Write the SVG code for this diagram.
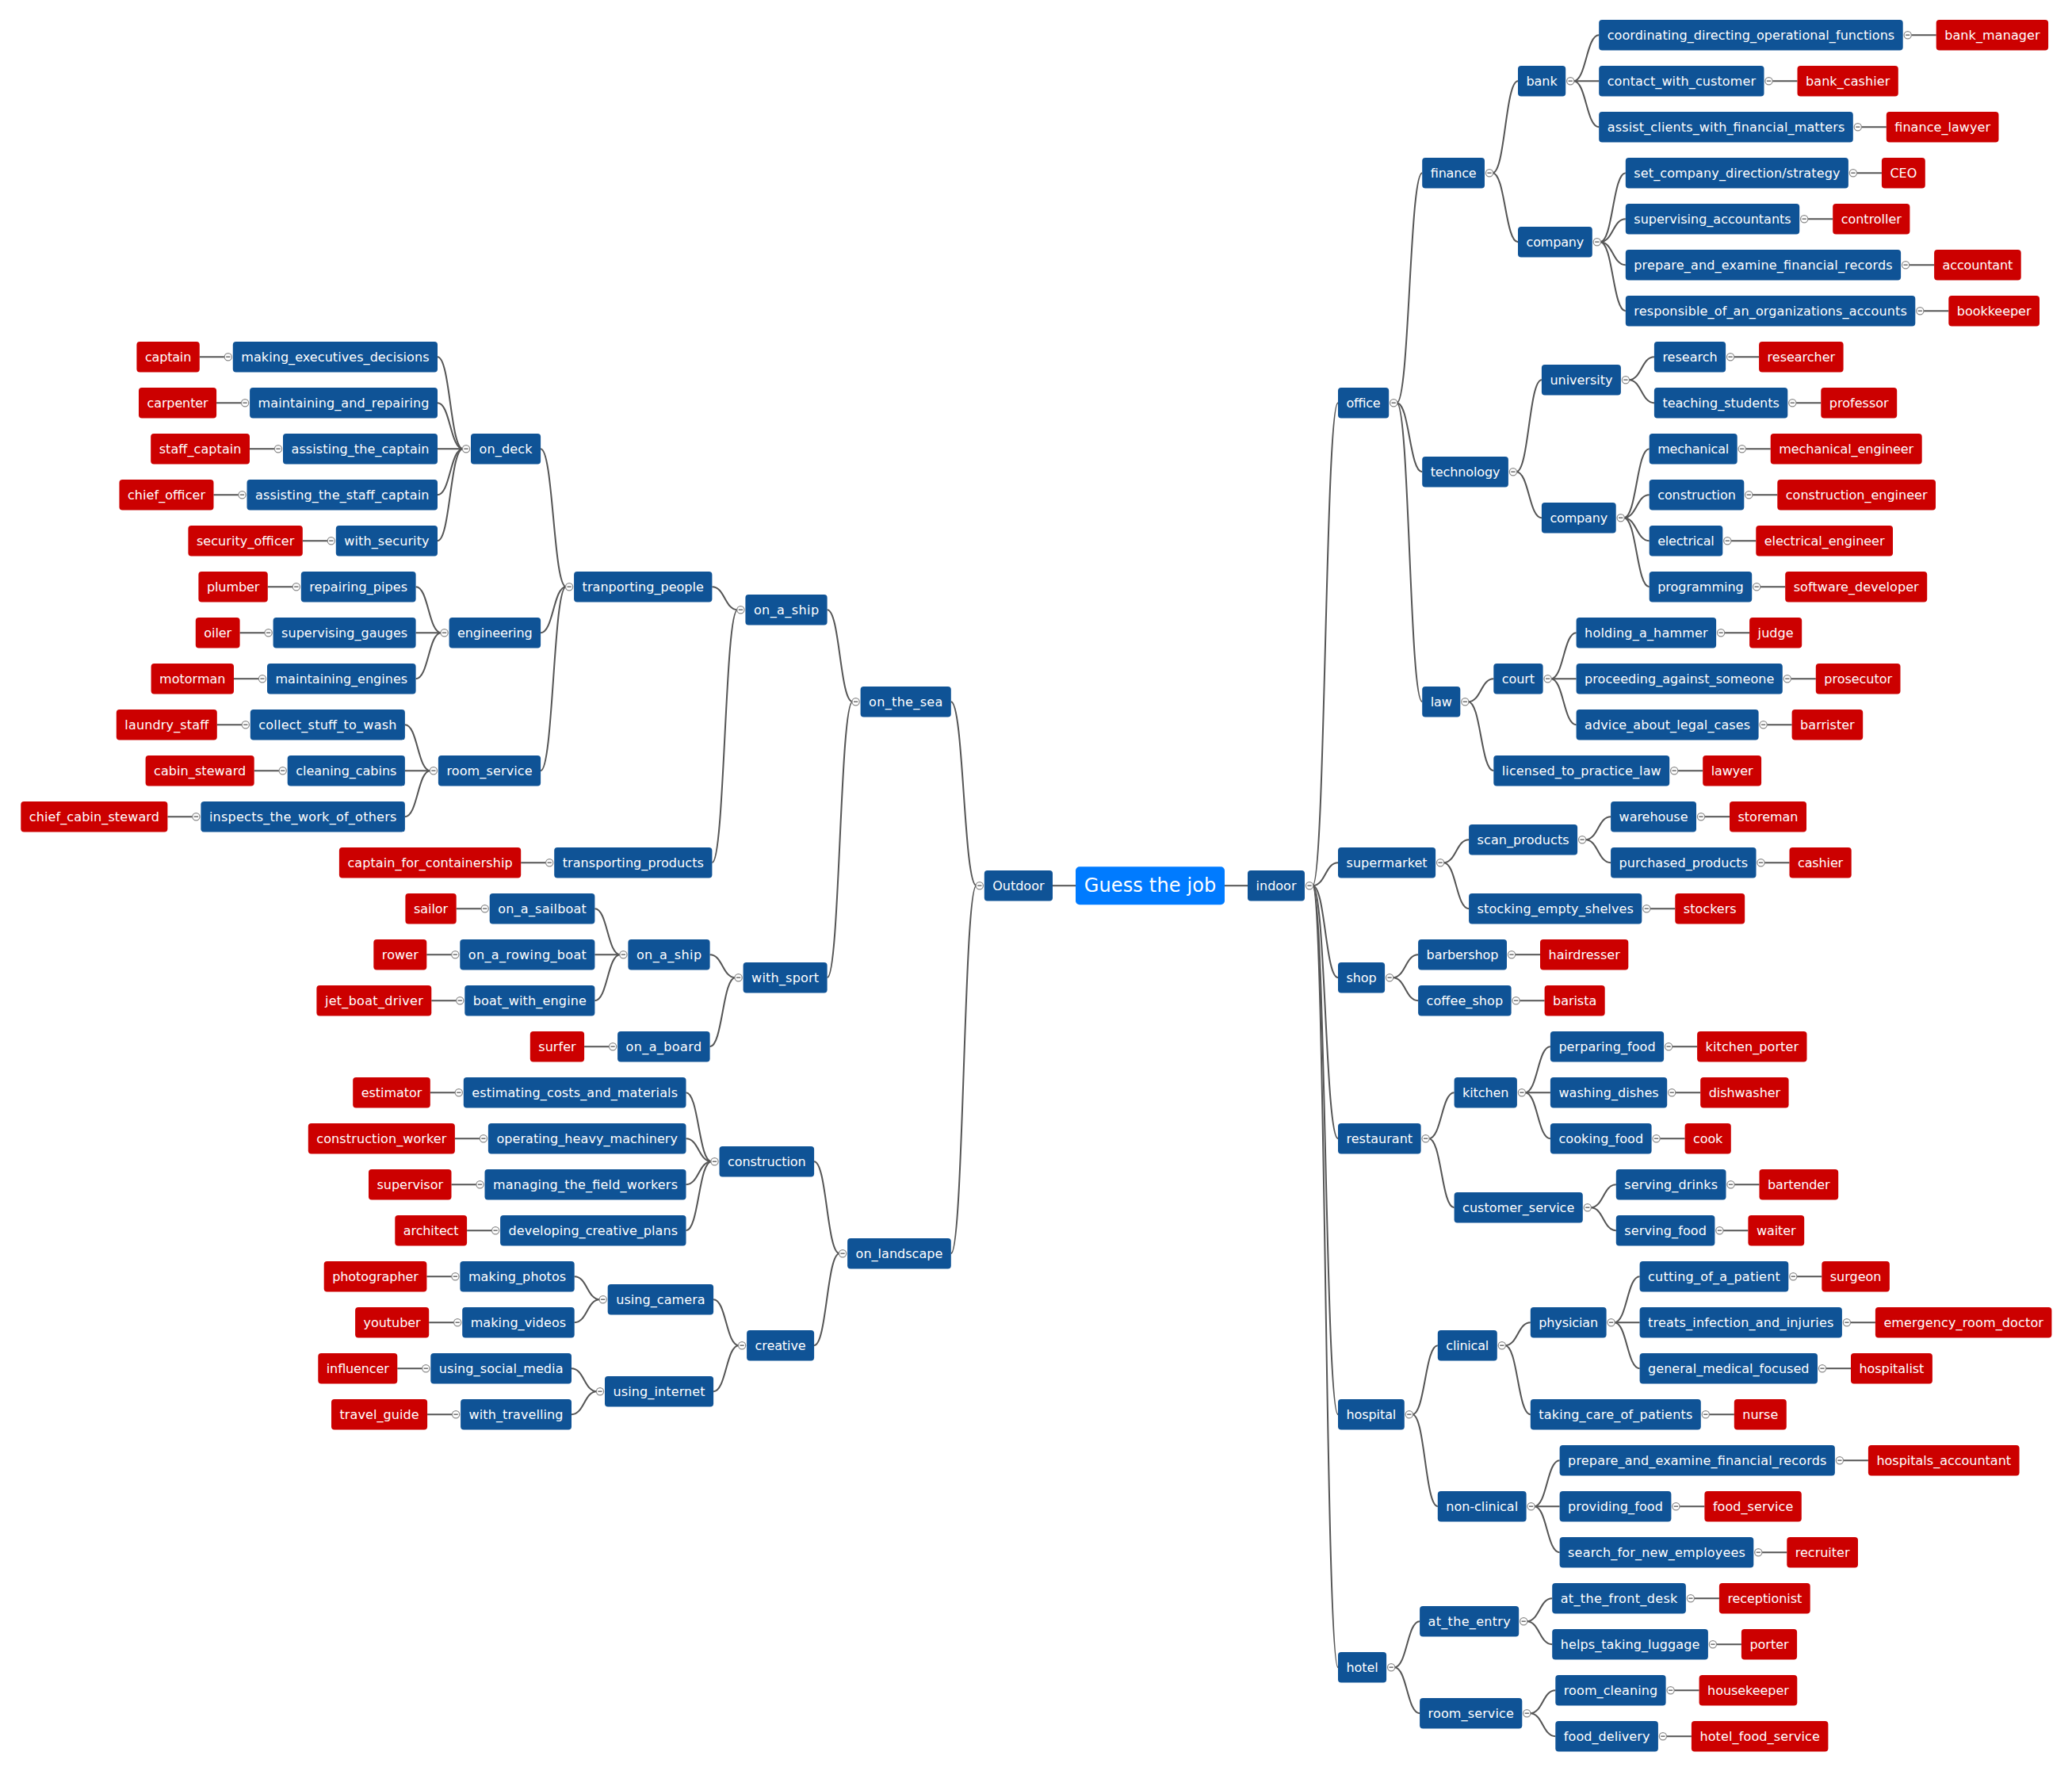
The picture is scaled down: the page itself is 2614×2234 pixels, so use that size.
<svg xmlns="http://www.w3.org/2000/svg" xmlns:xlink="http://www.w3.org/1999/xlink" width="2614" height="2234" viewBox="0 0 2614 2234">
<style>
.n rect{fill:#0F5396}
.lf rect{fill:#CC0000}
text{fill:#fff;font-family:"DejaVu Sans",Verdana,"Liberation Sans",sans-serif;font-size:16px;text-anchor:middle}
#connectors path{fill:none;stroke:#555;stroke-width:2}
</style>
<defs>
<g id="tg"><circle r="4.6" fill="#fff" stroke="#8a8a8a" stroke-width="1.2"/><path d="M-2.6 0H2.6" stroke="#777" stroke-width="1.6"/></g>
</defs>
<rect width="2614" height="2234" fill="#fff"/>
<g id="connectors">
<path d="M1545 1117.2H1574"/>
<path d="M1357 1117.2H1328"/>
<path d="M1656 1117.2C1672 1117.2 1672 508.2 1688 508.2"/>
<path d="M1656 1117.2C1672 1117.2 1672 1088.2 1688 1088.2"/>
<path d="M1656 1117.2C1672 1117.2 1672 1233.2 1688 1233.2"/>
<path d="M1656 1117.2C1672 1117.2 1672 1436.2 1688 1436.2"/>
<path d="M1656 1117.2C1672 1117.2 1672 1784.2 1688 1784.2"/>
<path d="M1656 1117.2C1672 1117.2 1672 2103.2 1688 2103.2"/>
<path d="M1762.2 508.2C1778.2 508.2 1778.2 218.2 1794.2 218.2"/>
<path d="M1762.2 508.2C1778.2 508.2 1778.2 595.2 1794.2 595.2"/>
<path d="M1762.2 508.2C1778.2 508.2 1778.2 885.2 1794.2 885.2"/>
<path d="M1821.1 1088.2C1837.1 1088.2 1837.1 1059.2 1853.1 1059.2"/>
<path d="M1821.1 1088.2C1837.1 1088.2 1837.1 1146.2 1853.1 1146.2"/>
<path d="M1757.1 1233.2C1773.1 1233.2 1773.1 1204.2 1789.1 1204.2"/>
<path d="M1757.1 1233.2C1773.1 1233.2 1773.1 1262.2 1789.1 1262.2"/>
<path d="M1802.6 1436.2C1818.6 1436.2 1818.6 1378.2 1834.6 1378.2"/>
<path d="M1802.6 1436.2C1818.6 1436.2 1818.6 1523.2 1834.6 1523.2"/>
<path d="M1781.8 1784.2C1797.8 1784.2 1797.8 1697.2 1813.8 1697.2"/>
<path d="M1781.8 1784.2C1797.8 1784.2 1797.8 1900.2 1813.8 1900.2"/>
<path d="M1759.1 2103.2C1775.1 2103.2 1775.1 2045.2 1791.1 2045.2"/>
<path d="M1759.1 2103.2C1775.1 2103.2 1775.1 2161.2 1791.1 2161.2"/>
<path d="M1883 218.2C1899 218.2 1899 102.2 1915 102.2"/>
<path d="M1883 218.2C1899 218.2 1899 305.2 1915 305.2"/>
<path d="M1912.9 595.2C1928.9 595.2 1928.9 479.2 1944.9 479.2"/>
<path d="M1912.9 595.2C1928.9 595.2 1928.9 653.2 1944.9 653.2"/>
<path d="M1852.3 885.2C1868.3 885.2 1868.3 856.2 1884.3 856.2"/>
<path d="M1852.3 885.2C1868.3 885.2 1868.3 972.2 1884.3 972.2"/>
<path d="M2000.1 1059.2C2016.1 1059.2 2016.1 1030.2 2032.1 1030.2"/>
<path d="M2000.1 1059.2C2016.1 1059.2 2016.1 1088.2 2032.1 1088.2"/>
<path d="M2081.3 1146.2H2113.3"/>
<path d="M1911 1204.2H1943"/>
<path d="M1916.6 1262.2H1948.6"/>
<path d="M1923.9 1378.2C1939.9 1378.2 1939.9 1320.2 1955.9 1320.2"/>
<path d="M1923.9 1378.2H1955.9"/>
<path d="M1923.9 1378.2C1939.9 1378.2 1939.9 1436.2 1955.9 1436.2"/>
<path d="M2006.8 1523.2C2022.8 1523.2 2022.8 1494.2 2038.8 1494.2"/>
<path d="M2006.8 1523.2C2022.8 1523.2 2022.8 1552.2 2038.8 1552.2"/>
<path d="M1898.8 1697.2C1914.8 1697.2 1914.8 1668.2 1930.8 1668.2"/>
<path d="M1898.8 1697.2C1914.8 1697.2 1914.8 1784.2 1930.8 1784.2"/>
<path d="M1935.6 1900.2C1951.6 1900.2 1951.6 1842.2 1967.6 1842.2"/>
<path d="M1935.6 1900.2H1967.6"/>
<path d="M1935.6 1900.2C1951.6 1900.2 1951.6 1958.2 1967.6 1958.2"/>
<path d="M1926.2 2045.2C1942.2 2045.2 1942.2 2016.2 1958.2 2016.2"/>
<path d="M1926.2 2045.2C1942.2 2045.2 1942.2 2074.2 1958.2 2074.2"/>
<path d="M1930.3 2161.2C1946.3 2161.2 1946.3 2132.2 1962.3 2132.2"/>
<path d="M1930.3 2161.2C1946.3 2161.2 1946.3 2190.2 1962.3 2190.2"/>
<path d="M1985.2 102.2C2001.2 102.2 2001.2 44.2 2017.2 44.2"/>
<path d="M1985.2 102.2H2017.2"/>
<path d="M1985.2 102.2C2001.2 102.2 2001.2 160.2 2017.2 160.2"/>
<path d="M2018.8 305.2C2034.8 305.2 2034.8 218.2 2050.8 218.2"/>
<path d="M2018.8 305.2C2034.8 305.2 2034.8 276.2 2050.8 276.2"/>
<path d="M2018.8 305.2C2034.8 305.2 2034.8 334.2 2050.8 334.2"/>
<path d="M2018.8 305.2C2034.8 305.2 2034.8 392.2 2050.8 392.2"/>
<path d="M2054.9 479.2C2070.9 479.2 2070.9 450.2 2086.9 450.2"/>
<path d="M2054.9 479.2C2070.9 479.2 2070.9 508.2 2086.9 508.2"/>
<path d="M2048.7 653.2C2064.7 653.2 2064.7 566.2 2080.7 566.2"/>
<path d="M2048.7 653.2C2064.7 653.2 2064.7 624.2 2080.7 624.2"/>
<path d="M2048.7 653.2C2064.7 653.2 2064.7 682.2 2080.7 682.2"/>
<path d="M2048.7 653.2C2064.7 653.2 2064.7 740.2 2080.7 740.2"/>
<path d="M1956.6 856.2C1972.6 856.2 1972.6 798.2 1988.6 798.2"/>
<path d="M1956.6 856.2H1988.6"/>
<path d="M1956.6 856.2C1972.6 856.2 1972.6 914.2 1988.6 914.2"/>
<path d="M2116.2 972.2H2148.2"/>
<path d="M2150 1030.2H2182"/>
<path d="M2225.5 1088.2H2257.5"/>
<path d="M2109.1 1320.2H2141.1"/>
<path d="M2113.2 1378.2H2145.2"/>
<path d="M2093.6 1436.2H2125.6"/>
<path d="M2187.5 1494.2H2219.5"/>
<path d="M2173.4 1552.2H2205.4"/>
<path d="M2036.6 1668.2C2052.6 1668.2 2052.6 1610.2 2068.6 1610.2"/>
<path d="M2036.6 1668.2H2068.6"/>
<path d="M2036.6 1668.2C2052.6 1668.2 2052.6 1726.2 2068.6 1726.2"/>
<path d="M2155.8 1784.2H2187.8"/>
<path d="M2324.9 1842.2H2356.9"/>
<path d="M2118.4 1900.2H2150.4"/>
<path d="M2222.3 1958.2H2254.3"/>
<path d="M2136.9 2016.2H2168.9"/>
<path d="M2164.9 2074.2H2196.9"/>
<path d="M2111.6 2132.2H2143.6"/>
<path d="M2101.9 2190.2H2133.9"/>
<path d="M2410.7 44.2H2442.7"/>
<path d="M2235.5 102.2H2267.5"/>
<path d="M2347.8 160.2H2379.8"/>
<path d="M2341.9 218.2H2373.9"/>
<path d="M2280.2 276.2H2312.2"/>
<path d="M2408.1 334.2H2440.1"/>
<path d="M2426.3 392.2H2458.3"/>
<path d="M2187.1 450.2H2219.1"/>
<path d="M2265.3 508.2H2297.3"/>
<path d="M2201.7 566.2H2233.7"/>
<path d="M2210.3 624.2H2242.3"/>
<path d="M2183.3 682.2H2215.3"/>
<path d="M2220.2 740.2H2252.2"/>
<path d="M2175.1 798.2H2207.1"/>
<path d="M2258.8 856.2H2290.8"/>
<path d="M2228.6 914.2H2260.6"/>
<path d="M2266.3 1610.2H2298.3"/>
<path d="M2333.9 1668.2H2365.9"/>
<path d="M2303 1726.2H2335"/>
<path d="M1231.8 1117.2C1215.8 1117.2 1215.8 885.2 1199.8 885.2"/>
<path d="M1231.8 1117.2C1215.8 1117.2 1215.8 1581.2 1199.8 1581.2"/>
<path d="M1075.6 885.2C1059.6 885.2 1059.6 769.2 1043.6 769.2"/>
<path d="M1075.6 885.2C1059.6 885.2 1059.6 1233.2 1043.6 1233.2"/>
<path d="M1059.1 1581.2C1043.1 1581.2 1043.1 1465.2 1027.1 1465.2"/>
<path d="M1059.1 1581.2C1043.1 1581.2 1043.1 1697.2 1027.1 1697.2"/>
<path d="M930.4 769.2C914.4 769.2 914.4 740.2 898.4 740.2"/>
<path d="M930.4 769.2C914.4 769.2 914.4 1088.2 898.4 1088.2"/>
<path d="M927.6 1233.2C911.6 1233.2 911.6 1204.2 895.6 1204.2"/>
<path d="M927.6 1233.2C911.6 1233.2 911.6 1320.2 895.6 1320.2"/>
<path d="M897.5 1465.2C881.5 1465.2 881.5 1378.2 865.5 1378.2"/>
<path d="M897.5 1465.2C881.5 1465.2 881.5 1436.2 865.5 1436.2"/>
<path d="M897.5 1465.2C881.5 1465.2 881.5 1494.2 865.5 1494.2"/>
<path d="M897.5 1465.2C881.5 1465.2 881.5 1552.2 865.5 1552.2"/>
<path d="M932.1 1697.2C916.1 1697.2 916.1 1639.2 900.1 1639.2"/>
<path d="M932.1 1697.2C916.1 1697.2 916.1 1755.2 900.1 1755.2"/>
<path d="M714.1 740.2C698.1 740.2 698.1 566.2 682.1 566.2"/>
<path d="M714.1 740.2C698.1 740.2 698.1 798.2 682.1 798.2"/>
<path d="M714.1 740.2C698.1 740.2 698.1 972.2 682.1 972.2"/>
<path d="M689.2 1088.2H657.2"/>
<path d="M782.4 1204.2C766.4 1204.2 766.4 1146.2 750.4 1146.2"/>
<path d="M782.4 1204.2H750.4"/>
<path d="M782.4 1204.2C766.4 1204.2 766.4 1262.2 750.4 1262.2"/>
<path d="M769.1 1320.2H737.1"/>
<path d="M574.8 1378.2H542.8"/>
<path d="M605.9 1436.2H573.9"/>
<path d="M601.5 1494.2H569.5"/>
<path d="M621.1 1552.2H589.1"/>
<path d="M756.7 1639.2C740.7 1639.2 740.7 1610.2 724.7 1610.2"/>
<path d="M756.7 1639.2C740.7 1639.2 740.7 1668.2 724.7 1668.2"/>
<path d="M753 1755.2C737 1755.2 737 1726.2 721 1726.2"/>
<path d="M753 1755.2C737 1755.2 737 1784.2 721 1784.2"/>
<path d="M584 566.2C568 566.2 568 450.2 552 450.2"/>
<path d="M584 566.2C568 566.2 568 508.2 552 508.2"/>
<path d="M584 566.2H552"/>
<path d="M584 566.2C568 566.2 568 624.2 552 624.2"/>
<path d="M584 566.2C568 566.2 568 682.2 552 682.2"/>
<path d="M556.6 798.2C540.6 798.2 540.6 740.2 524.6 740.2"/>
<path d="M556.6 798.2H524.6"/>
<path d="M556.6 798.2C540.6 798.2 540.6 856.2 524.6 856.2"/>
<path d="M542.9 972.2C526.9 972.2 526.9 914.2 510.9 914.2"/>
<path d="M542.9 972.2H510.9"/>
<path d="M542.9 972.2C526.9 972.2 526.9 1030.2 510.9 1030.2"/>
<path d="M607.7 1146.2H575.7"/>
<path d="M570.3 1204.2H538.3"/>
<path d="M576.3 1262.2H544.3"/>
<path d="M570.4 1610.2H538.4"/>
<path d="M573.2 1668.2H541.2"/>
<path d="M533.3 1726.2H501.3"/>
<path d="M571.1 1784.2H539.1"/>
<path d="M283.8 450.2H251.8"/>
<path d="M305.1 508.2H273.1"/>
<path d="M347 566.2H315"/>
<path d="M301.5 624.2H269.5"/>
<path d="M413.8 682.2H381.8"/>
<path d="M369.8 740.2H337.8"/>
<path d="M334.6 798.2H302.6"/>
<path d="M327 856.2H295"/>
<path d="M305.8 914.2H273.8"/>
<path d="M352.7 972.2H320.7"/>
<path d="M243.4 1030.2H211.4"/>
</g>
<g id="root"><rect x="1357" y="1093.2" width="188" height="48" rx="5" fill="#007BFF"/><text x="1451" y="1125.2" style="font-size:24px" textLength="166.7">Guess the job</text></g>
<g id="n-indoor" class="n" transform="translate(1574,1098)"><rect width="72" height="38.4" rx="4"/><text x="36" y="24.9" textLength="51">indoor</text><use href="#tg" x="78" y="19.2"/></g>
<g id="n-office" class="n" transform="translate(1688,489)"><rect width="64.2" height="38.4" rx="4"/><text x="32.1" y="24.9" textLength="43.2">office</text><use href="#tg" x="70.2" y="19.2"/></g>
<g id="n-supermarket" class="n" transform="translate(1688,1069)"><rect width="123.1" height="38.4" rx="4"/><text x="61.55" y="24.9" textLength="102.1">supermarket</text><use href="#tg" x="129.1" y="19.2"/></g>
<g id="n-shop" class="n" transform="translate(1688,1214)"><rect width="59.1" height="38.4" rx="4"/><text x="29.55" y="24.9" textLength="38.1">shop</text><use href="#tg" x="65.1" y="19.2"/></g>
<g id="n-restaurant" class="n" transform="translate(1688,1417)"><rect width="104.6" height="38.4" rx="4"/><text x="52.3" y="24.9" textLength="83.6">restaurant</text><use href="#tg" x="110.6" y="19.2"/></g>
<g id="n-hospital" class="n" transform="translate(1688,1765)"><rect width="83.8" height="38.4" rx="4"/><text x="41.9" y="24.9" textLength="62.8">hospital</text><use href="#tg" x="89.8" y="19.2"/></g>
<g id="n-hotel" class="n" transform="translate(1688,2084)"><rect width="61.1" height="38.4" rx="4"/><text x="30.55" y="24.9" textLength="40.1">hotel</text><use href="#tg" x="67.1" y="19.2"/></g>
<g id="n-finance" class="n" transform="translate(1794.2,199)"><rect width="78.8" height="38.4" rx="4"/><text x="39.4" y="24.9" textLength="57.8">finance</text><use href="#tg" x="84.8" y="19.2"/></g>
<g id="n-technology" class="n" transform="translate(1794.2,576)"><rect width="108.7" height="38.4" rx="4"/><text x="54.35" y="24.9" textLength="87.7">technology</text><use href="#tg" x="114.7" y="19.2"/></g>
<g id="n-law" class="n" transform="translate(1794.2,866)"><rect width="48.1" height="38.4" rx="4"/><text x="24.05" y="24.9" textLength="27.1">law</text><use href="#tg" x="54.1" y="19.2"/></g>
<g id="n-scan_products" class="n" transform="translate(1853.1,1040)"><rect width="137" height="38.4" rx="4"/><text x="68.5" y="24.9" textLength="116">scan_products</text><use href="#tg" x="143" y="19.2"/></g>
<g id="n-stocking_empty_shelves" class="n" transform="translate(1853.1,1127)"><rect width="218.2" height="38.4" rx="4"/><text x="109.1" y="24.9" textLength="197.2">stocking_empty_shelves</text><use href="#tg" x="224.2" y="19.2"/></g>
<g id="n-barbershop" class="n" transform="translate(1789.1,1185)"><rect width="111.9" height="38.4" rx="4"/><text x="55.95" y="24.9" textLength="90.9">barbershop</text><use href="#tg" x="117.9" y="19.2"/></g>
<g id="n-coffee_shop" class="n" transform="translate(1789.1,1243)"><rect width="117.5" height="38.4" rx="4"/><text x="58.75" y="24.9" textLength="96.5">coffee_shop</text><use href="#tg" x="123.5" y="19.2"/></g>
<g id="n-kitchen" class="n" transform="translate(1834.6,1359)"><rect width="79.3" height="38.4" rx="4"/><text x="39.65" y="24.9" textLength="58.3">kitchen</text><use href="#tg" x="85.3" y="19.2"/></g>
<g id="n-customer_service" class="n" transform="translate(1834.6,1504)"><rect width="162.2" height="38.4" rx="4"/><text x="81.1" y="24.9" textLength="141.2">customer_service</text><use href="#tg" x="168.2" y="19.2"/></g>
<g id="n-clinical" class="n" transform="translate(1813.8,1678)"><rect width="75" height="38.4" rx="4"/><text x="37.5" y="24.9" textLength="54">clinical</text><use href="#tg" x="81" y="19.2"/></g>
<g id="n-non-clinical" class="n" transform="translate(1813.8,1881)"><rect width="111.8" height="38.4" rx="4"/><text x="55.9" y="24.9" textLength="90.8">non-clinical</text><use href="#tg" x="117.8" y="19.2"/></g>
<g id="n-at_the_entry" class="n" transform="translate(1791.1,2026)"><rect width="125.1" height="38.4" rx="4"/><text x="62.55" y="24.9" textLength="104.1">at_the_entry</text><use href="#tg" x="131.1" y="19.2"/></g>
<g id="n-room_service-hotel" class="n" transform="translate(1791.1,2142)"><rect width="129.2" height="38.4" rx="4"/><text x="64.6" y="24.9" textLength="108.2">room_service</text><use href="#tg" x="135.2" y="19.2"/></g>
<g id="n-bank" class="n" transform="translate(1915,83)"><rect width="60.2" height="38.4" rx="4"/><text x="30.1" y="24.9" textLength="39.2">bank</text><use href="#tg" x="66.2" y="19.2"/></g>
<g id="n-company-finance" class="n" transform="translate(1915,286)"><rect width="93.8" height="38.4" rx="4"/><text x="46.9" y="24.9" textLength="72.8">company</text><use href="#tg" x="99.8" y="19.2"/></g>
<g id="n-university" class="n" transform="translate(1944.9,460)"><rect width="100" height="38.4" rx="4"/><text x="50" y="24.9" textLength="79">university</text><use href="#tg" x="106" y="19.2"/></g>
<g id="n-company-tech" class="n" transform="translate(1944.9,634)"><rect width="93.8" height="38.4" rx="4"/><text x="46.9" y="24.9" textLength="72.8">company</text><use href="#tg" x="99.8" y="19.2"/></g>
<g id="n-court" class="n" transform="translate(1884.3,837)"><rect width="62.3" height="38.4" rx="4"/><text x="31.15" y="24.9" textLength="41.3">court</text><use href="#tg" x="68.3" y="19.2"/></g>
<g id="n-licensed_to_practice_law" class="n" transform="translate(1884.3,953)"><rect width="221.9" height="38.4" rx="4"/><text x="110.95" y="24.9" textLength="200.9">licensed_to_practice_law</text><use href="#tg" x="227.9" y="19.2"/></g>
<g id="n-warehouse" class="n" transform="translate(2032.1,1011)"><rect width="107.9" height="38.4" rx="4"/><text x="53.95" y="24.9" textLength="86.9">warehouse</text><use href="#tg" x="113.9" y="19.2"/></g>
<g id="n-purchased_products" class="n" transform="translate(2032.1,1069)"><rect width="183.4" height="38.4" rx="4"/><text x="91.7" y="24.9" textLength="162.4">purchased_products</text><use href="#tg" x="189.4" y="19.2"/></g>
<g id="n-stockers" class="lf" transform="translate(2113.3,1127)"><rect width="87.9" height="38.4" rx="4"/><text x="43.95" y="24.9" textLength="66.9">stockers</text></g>
<g id="n-hairdresser" class="lf" transform="translate(1943,1185)"><rect width="111.3" height="38.4" rx="4"/><text x="55.65" y="24.9" textLength="90.3">hairdresser</text></g>
<g id="n-barista" class="lf" transform="translate(1948.6,1243)"><rect width="76.1" height="38.4" rx="4"/><text x="38.05" y="24.9" textLength="55.1">barista</text></g>
<g id="n-perparing_food" class="n" transform="translate(1955.9,1301)"><rect width="143.2" height="38.4" rx="4"/><text x="71.6" y="24.9" textLength="122.2">perparing_food</text><use href="#tg" x="149.2" y="19.2"/></g>
<g id="n-washing_dishes" class="n" transform="translate(1955.9,1359)"><rect width="147.3" height="38.4" rx="4"/><text x="73.65" y="24.9" textLength="126.3">washing_dishes</text><use href="#tg" x="153.3" y="19.2"/></g>
<g id="n-cooking_food" class="n" transform="translate(1955.9,1417)"><rect width="127.7" height="38.4" rx="4"/><text x="63.85" y="24.9" textLength="106.7">cooking_food</text><use href="#tg" x="133.7" y="19.2"/></g>
<g id="n-serving_drinks" class="n" transform="translate(2038.8,1475)"><rect width="138.7" height="38.4" rx="4"/><text x="69.35" y="24.9" textLength="117.7">serving_drinks</text><use href="#tg" x="144.7" y="19.2"/></g>
<g id="n-serving_food" class="n" transform="translate(2038.8,1533)"><rect width="124.6" height="38.4" rx="4"/><text x="62.3" y="24.9" textLength="103.6">serving_food</text><use href="#tg" x="130.6" y="19.2"/></g>
<g id="n-physician" class="n" transform="translate(1930.8,1649)"><rect width="95.8" height="38.4" rx="4"/><text x="47.9" y="24.9" textLength="74.8">physician</text><use href="#tg" x="101.8" y="19.2"/></g>
<g id="n-taking_care_of_patients" class="n" transform="translate(1930.8,1765)"><rect width="215" height="38.4" rx="4"/><text x="107.5" y="24.9" textLength="194">taking_care_of_patients</text><use href="#tg" x="221" y="19.2"/></g>
<g id="n-prepare-hospital" class="n" transform="translate(1967.6,1823)"><rect width="347.3" height="38.4" rx="4"/><text x="173.65" y="24.9" textLength="326.3">prepare_and_examine_financial_records</text><use href="#tg" x="353.3" y="19.2"/></g>
<g id="n-providing_food" class="n" transform="translate(1967.6,1881)"><rect width="140.8" height="38.4" rx="4"/><text x="70.4" y="24.9" textLength="119.8">providing_food</text><use href="#tg" x="146.8" y="19.2"/></g>
<g id="n-search_for_new_employees" class="n" transform="translate(1967.6,1939)"><rect width="244.7" height="38.4" rx="4"/><text x="122.35" y="24.9" textLength="223.7">search_for_new_employees</text><use href="#tg" x="250.7" y="19.2"/></g>
<g id="n-at_the_front_desk" class="n" transform="translate(1958.2,1997)"><rect width="168.7" height="38.4" rx="4"/><text x="84.35" y="24.9" textLength="147.7">at_the_front_desk</text><use href="#tg" x="174.7" y="19.2"/></g>
<g id="n-helps_taking_luggage" class="n" transform="translate(1958.2,2055)"><rect width="196.7" height="38.4" rx="4"/><text x="98.35" y="24.9" textLength="175.7">helps_taking_luggage</text><use href="#tg" x="202.7" y="19.2"/></g>
<g id="n-room_cleaning" class="n" transform="translate(1962.3,2113)"><rect width="139.3" height="38.4" rx="4"/><text x="69.65" y="24.9" textLength="118.3">room_cleaning</text><use href="#tg" x="145.3" y="19.2"/></g>
<g id="n-food_delivery" class="n" transform="translate(1962.3,2171)"><rect width="129.6" height="38.4" rx="4"/><text x="64.8" y="24.9" textLength="108.6">food_delivery</text><use href="#tg" x="135.6" y="19.2"/></g>
<g id="n-coordinating" class="n" transform="translate(2017.2,25)"><rect width="383.5" height="38.4" rx="4"/><text x="191.75" y="24.9" textLength="362.5">coordinating_directing_operational_functions</text><use href="#tg" x="389.5" y="19.2"/></g>
<g id="n-contact_with_customer" class="n" transform="translate(2017.2,83)"><rect width="208.3" height="38.4" rx="4"/><text x="104.15" y="24.9" textLength="187.3">contact_with_customer</text><use href="#tg" x="214.3" y="19.2"/></g>
<g id="n-assist_clients" class="n" transform="translate(2017.2,141)"><rect width="320.6" height="38.4" rx="4"/><text x="160.3" y="24.9" textLength="299.6">assist_clients_with_financial_matters</text><use href="#tg" x="326.6" y="19.2"/></g>
<g id="n-set_company" class="n" transform="translate(2050.8,199)"><rect width="281.1" height="38.4" rx="4"/><text x="140.55" y="24.9" textLength="260.1">set_company_direction/strategy</text><use href="#tg" x="287.1" y="19.2"/></g>
<g id="n-supervising_accountants" class="n" transform="translate(2050.8,257)"><rect width="219.4" height="38.4" rx="4"/><text x="109.7" y="24.9" textLength="198.4">supervising_accountants</text><use href="#tg" x="225.4" y="19.2"/></g>
<g id="n-prepare-company" class="n" transform="translate(2050.8,315)"><rect width="347.3" height="38.4" rx="4"/><text x="173.65" y="24.9" textLength="326.3">prepare_and_examine_financial_records</text><use href="#tg" x="353.3" y="19.2"/></g>
<g id="n-responsible" class="n" transform="translate(2050.8,373)"><rect width="365.5" height="38.4" rx="4"/><text x="182.75" y="24.9" textLength="344.5">responsible_of_an_organizations_accounts</text><use href="#tg" x="371.5" y="19.2"/></g>
<g id="n-research" class="n" transform="translate(2086.9,431)"><rect width="90.2" height="38.4" rx="4"/><text x="45.1" y="24.9" textLength="69.2">research</text><use href="#tg" x="96.2" y="19.2"/></g>
<g id="n-teaching_students" class="n" transform="translate(2086.9,489)"><rect width="168.4" height="38.4" rx="4"/><text x="84.2" y="24.9" textLength="147.4">teaching_students</text><use href="#tg" x="174.4" y="19.2"/></g>
<g id="n-mechanical" class="n" transform="translate(2080.7,547)"><rect width="111" height="38.4" rx="4"/><text x="55.5" y="24.9" textLength="90">mechanical</text><use href="#tg" x="117" y="19.2"/></g>
<g id="n-construction-tech" class="n" transform="translate(2080.7,605)"><rect width="119.6" height="38.4" rx="4"/><text x="59.8" y="24.9" textLength="98.6">construction</text><use href="#tg" x="125.6" y="19.2"/></g>
<g id="n-electrical" class="n" transform="translate(2080.7,663)"><rect width="92.6" height="38.4" rx="4"/><text x="46.3" y="24.9" textLength="71.6">electrical</text><use href="#tg" x="98.6" y="19.2"/></g>
<g id="n-programming" class="n" transform="translate(2080.7,721)"><rect width="129.5" height="38.4" rx="4"/><text x="64.75" y="24.9" textLength="108.5">programming</text><use href="#tg" x="135.5" y="19.2"/></g>
<g id="n-holding_a_hammer" class="n" transform="translate(1988.6,779)"><rect width="176.5" height="38.4" rx="4"/><text x="88.25" y="24.9" textLength="155.5">holding_a_hammer</text><use href="#tg" x="182.5" y="19.2"/></g>
<g id="n-proceeding" class="n" transform="translate(1988.6,837)"><rect width="260.2" height="38.4" rx="4"/><text x="130.1" y="24.9" textLength="239.2">proceeding_against_someone</text><use href="#tg" x="266.2" y="19.2"/></g>
<g id="n-advice" class="n" transform="translate(1988.6,895)"><rect width="230" height="38.4" rx="4"/><text x="115" y="24.9" textLength="209">advice_about_legal_cases</text><use href="#tg" x="236" y="19.2"/></g>
<g id="n-lawyer" class="lf" transform="translate(2148.2,953)"><rect width="73.9" height="38.4" rx="4"/><text x="36.95" y="24.9" textLength="52.9">lawyer</text></g>
<g id="n-storeman" class="lf" transform="translate(2182,1011)"><rect width="97" height="38.4" rx="4"/><text x="48.5" y="24.9" textLength="76">storeman</text></g>
<g id="n-cashier" class="lf" transform="translate(2257.5,1069)"><rect width="78.2" height="38.4" rx="4"/><text x="39.1" y="24.9" textLength="57.2">cashier</text></g>
<g id="n-kitchen_porter" class="lf" transform="translate(2141.1,1301)"><rect width="138.4" height="38.4" rx="4"/><text x="69.2" y="24.9" textLength="117.4">kitchen_porter</text></g>
<g id="n-dishwasher" class="lf" transform="translate(2145.2,1359)"><rect width="111.4" height="38.4" rx="4"/><text x="55.7" y="24.9" textLength="90.4">dishwasher</text></g>
<g id="n-cook" class="lf" transform="translate(2125.6,1417)"><rect width="58.2" height="38.4" rx="4"/><text x="29.1" y="24.9" textLength="37.2">cook</text></g>
<g id="n-bartender" class="lf" transform="translate(2219.5,1475)"><rect width="99.7" height="38.4" rx="4"/><text x="49.85" y="24.9" textLength="78.7">bartender</text></g>
<g id="n-waiter" class="lf" transform="translate(2205.4,1533)"><rect width="70.8" height="38.4" rx="4"/><text x="35.4" y="24.9" textLength="49.8">waiter</text></g>
<g id="n-cutting" class="n" transform="translate(2068.6,1591)"><rect width="187.7" height="38.4" rx="4"/><text x="93.85" y="24.9" textLength="166.7">cutting_of_a_patient</text><use href="#tg" x="193.7" y="19.2"/></g>
<g id="n-treats" class="n" transform="translate(2068.6,1649)"><rect width="255.3" height="38.4" rx="4"/><text x="127.65" y="24.9" textLength="234.3">treats_infection_and_injuries</text><use href="#tg" x="261.3" y="19.2"/></g>
<g id="n-general" class="n" transform="translate(2068.6,1707)"><rect width="224.4" height="38.4" rx="4"/><text x="112.2" y="24.9" textLength="203.4">general_medical_focused</text><use href="#tg" x="230.4" y="19.2"/></g>
<g id="n-nurse" class="lf" transform="translate(2187.8,1765)"><rect width="66" height="38.4" rx="4"/><text x="33" y="24.9" textLength="45">nurse</text></g>
<g id="n-hospitals_accountant" class="lf" transform="translate(2356.9,1823)"><rect width="190.7" height="38.4" rx="4"/><text x="95.35" y="24.9" textLength="169.7">hospitals_accountant</text></g>
<g id="n-food_service" class="lf" transform="translate(2150.4,1881)"><rect width="122.4" height="38.4" rx="4"/><text x="61.2" y="24.9" textLength="101.4">food_service</text></g>
<g id="n-recruiter" class="lf" transform="translate(2254.3,1939)"><rect width="89.7" height="38.4" rx="4"/><text x="44.85" y="24.9" textLength="68.7">recruiter</text></g>
<g id="n-receptionist" class="lf" transform="translate(2168.9,1997)"><rect width="114.8" height="38.4" rx="4"/><text x="57.4" y="24.9" textLength="93.8">receptionist</text></g>
<g id="n-porter" class="lf" transform="translate(2196.9,2055)"><rect width="70.2" height="38.4" rx="4"/><text x="35.1" y="24.9" textLength="49.2">porter</text></g>
<g id="n-housekeeper" class="lf" transform="translate(2143.6,2113)"><rect width="123.7" height="38.4" rx="4"/><text x="61.85" y="24.9" textLength="102.7">housekeeper</text></g>
<g id="n-hotel_food_service" class="lf" transform="translate(2133.9,2171)"><rect width="172.5" height="38.4" rx="4"/><text x="86.25" y="24.9" textLength="151.5">hotel_food_service</text></g>
<g id="n-bank_manager" class="lf" transform="translate(2442.7,25)"><rect width="141.4" height="38.4" rx="4"/><text x="70.7" y="24.9" textLength="120.4">bank_manager</text></g>
<g id="n-bank_cashier" class="lf" transform="translate(2267.5,83)"><rect width="127.3" height="38.4" rx="4"/><text x="63.65" y="24.9" textLength="106.3">bank_cashier</text></g>
<g id="n-finance_lawyer" class="lf" transform="translate(2379.8,141)"><rect width="141.7" height="38.4" rx="4"/><text x="70.85" y="24.9" textLength="120.7">finance_lawyer</text></g>
<g id="n-CEO" class="lf" transform="translate(2373.9,199)"><rect width="54.9" height="38.4" rx="4"/><text x="27.45" y="24.9" textLength="33.9">CEO</text></g>
<g id="n-controller" class="lf" transform="translate(2312.2,257)"><rect width="97.2" height="38.4" rx="4"/><text x="48.6" y="24.9" textLength="76.2">controller</text></g>
<g id="n-accountant" class="lf" transform="translate(2440.1,315)"><rect width="109.6" height="38.4" rx="4"/><text x="54.8" y="24.9" textLength="88.6">accountant</text></g>
<g id="n-bookkeeper" class="lf" transform="translate(2458.3,373)"><rect width="114.7" height="38.4" rx="4"/><text x="57.35" y="24.9" textLength="93.7">bookkeeper</text></g>
<g id="n-researcher" class="lf" transform="translate(2219.1,431)"><rect width="106.5" height="38.4" rx="4"/><text x="53.25" y="24.9" textLength="85.5">researcher</text></g>
<g id="n-professor" class="lf" transform="translate(2297.3,489)"><rect width="95.9" height="38.4" rx="4"/><text x="47.95" y="24.9" textLength="74.9">professor</text></g>
<g id="n-mechanical_engineer" class="lf" transform="translate(2233.7,547)"><rect width="191" height="38.4" rx="4"/><text x="95.5" y="24.9" textLength="170">mechanical_engineer</text></g>
<g id="n-construction_engineer" class="lf" transform="translate(2242.3,605)"><rect width="199.7" height="38.4" rx="4"/><text x="99.85" y="24.9" textLength="178.7">construction_engineer</text></g>
<g id="n-electrical_engineer" class="lf" transform="translate(2215.3,663)"><rect width="172.7" height="38.4" rx="4"/><text x="86.35" y="24.9" textLength="151.7">electrical_engineer</text></g>
<g id="n-software_developer" class="lf" transform="translate(2252.2,721)"><rect width="179" height="38.4" rx="4"/><text x="89.5" y="24.9" textLength="158">software_developer</text></g>
<g id="n-judge" class="lf" transform="translate(2207.1,779)"><rect width="66.1" height="38.4" rx="4"/><text x="33.05" y="24.9" textLength="45.1">judge</text></g>
<g id="n-prosecutor" class="lf" transform="translate(2290.8,837)"><rect width="106.7" height="38.4" rx="4"/><text x="53.35" y="24.9" textLength="85.7">prosecutor</text></g>
<g id="n-barrister" class="lf" transform="translate(2260.6,895)"><rect width="89.6" height="38.4" rx="4"/><text x="44.8" y="24.9" textLength="68.6">barrister</text></g>
<g id="n-surgeon" class="lf" transform="translate(2298.3,1591)"><rect width="85.6" height="38.4" rx="4"/><text x="42.8" y="24.9" textLength="64.6">surgeon</text></g>
<g id="n-emergency_room_doctor" class="lf" transform="translate(2365.9,1649)"><rect width="222.5" height="38.4" rx="4"/><text x="111.25" y="24.9" textLength="201.5">emergency_room_doctor</text></g>
<g id="n-hospitalist" class="lf" transform="translate(2335,1707)"><rect width="102.9" height="38.4" rx="4"/><text x="51.45" y="24.9" textLength="81.9">hospitalist</text></g>
<g id="n-Outdoor" class="n" transform="translate(1241.8,1098)"><rect width="86.2" height="38.4" rx="4"/><text x="43.1" y="24.9" textLength="65.2">Outdoor</text><use href="#tg" x="-6" y="19.2"/></g>
<g id="n-on_the_sea" class="n" transform="translate(1085.6,866)"><rect width="114.2" height="38.4" rx="4"/><text x="57.1" y="24.9" textLength="93.2">on_the_sea</text><use href="#tg" x="-6" y="19.2"/></g>
<g id="n-on_landscape" class="n" transform="translate(1069.1,1562)"><rect width="130.7" height="38.4" rx="4"/><text x="65.35" y="24.9" textLength="109.7">on_landscape</text><use href="#tg" x="-6" y="19.2"/></g>
<g id="n-on_a_ship" class="n" transform="translate(940.4,750)"><rect width="103.2" height="38.4" rx="4"/><text x="51.6" y="24.9" textLength="82.2">on_a_ship</text><use href="#tg" x="-6" y="19.2"/></g>
<g id="n-with_sport" class="n" transform="translate(937.6,1214)"><rect width="106" height="38.4" rx="4"/><text x="53" y="24.9" textLength="85">with_sport</text><use href="#tg" x="-6" y="19.2"/></g>
<g id="n-construction-land" class="n" transform="translate(907.5,1446)"><rect width="119.6" height="38.4" rx="4"/><text x="59.8" y="24.9" textLength="98.6">construction</text><use href="#tg" x="-6" y="19.2"/></g>
<g id="n-creative" class="n" transform="translate(942.1,1678)"><rect width="85" height="38.4" rx="4"/><text x="42.5" y="24.9" textLength="64">creative</text><use href="#tg" x="-6" y="19.2"/></g>
<g id="n-tranporting_people" class="n" transform="translate(724.1,721)"><rect width="174.3" height="38.4" rx="4"/><text x="87.15" y="24.9" textLength="153.3">tranporting_people</text><use href="#tg" x="-6" y="19.2"/></g>
<g id="n-transporting_products" class="n" transform="translate(699.2,1069)"><rect width="199.2" height="38.4" rx="4"/><text x="99.6" y="24.9" textLength="178.2">transporting_products</text><use href="#tg" x="-6" y="19.2"/></g>
<g id="n-on_a_ship-sport" class="n" transform="translate(792.4,1185)"><rect width="103.2" height="38.4" rx="4"/><text x="51.6" y="24.9" textLength="82.2">on_a_ship</text><use href="#tg" x="-6" y="19.2"/></g>
<g id="n-on_a_board" class="n" transform="translate(779.1,1301)"><rect width="116.5" height="38.4" rx="4"/><text x="58.25" y="24.9" textLength="95.5">on_a_board</text><use href="#tg" x="-6" y="19.2"/></g>
<g id="n-estimating" class="n" transform="translate(584.8,1359)"><rect width="280.7" height="38.4" rx="4"/><text x="140.35" y="24.9" textLength="259.7">estimating_costs_and_materials</text><use href="#tg" x="-6" y="19.2"/></g>
<g id="n-operating" class="n" transform="translate(615.9,1417)"><rect width="249.6" height="38.4" rx="4"/><text x="124.8" y="24.9" textLength="228.6">operating_heavy_machinery</text><use href="#tg" x="-6" y="19.2"/></g>
<g id="n-managing" class="n" transform="translate(611.5,1475)"><rect width="254" height="38.4" rx="4"/><text x="127" y="24.9" textLength="233">managing_the_field_workers</text><use href="#tg" x="-6" y="19.2"/></g>
<g id="n-developing" class="n" transform="translate(631.1,1533)"><rect width="234.4" height="38.4" rx="4"/><text x="117.2" y="24.9" textLength="213.4">developing_creative_plans</text><use href="#tg" x="-6" y="19.2"/></g>
<g id="n-using_camera" class="n" transform="translate(766.7,1620)"><rect width="133.4" height="38.4" rx="4"/><text x="66.7" y="24.9" textLength="112.4">using_camera</text><use href="#tg" x="-6" y="19.2"/></g>
<g id="n-using_internet" class="n" transform="translate(763,1736)"><rect width="137.1" height="38.4" rx="4"/><text x="68.55" y="24.9" textLength="116.1">using_internet</text><use href="#tg" x="-6" y="19.2"/></g>
<g id="n-on_deck" class="n" transform="translate(594,547)"><rect width="88.1" height="38.4" rx="4"/><text x="44.05" y="24.9" textLength="67.1">on_deck</text><use href="#tg" x="-6" y="19.2"/></g>
<g id="n-engineering" class="n" transform="translate(566.6,779)"><rect width="115.5" height="38.4" rx="4"/><text x="57.75" y="24.9" textLength="94.5">engineering</text><use href="#tg" x="-6" y="19.2"/></g>
<g id="n-room_service-ship" class="n" transform="translate(552.9,953)"><rect width="129.2" height="38.4" rx="4"/><text x="64.6" y="24.9" textLength="108.2">room_service</text><use href="#tg" x="-6" y="19.2"/></g>
<g id="n-captain_for_containership" class="lf" transform="translate(427.9,1069)"><rect width="229.3" height="38.4" rx="4"/><text x="114.65" y="24.9" textLength="208.3">captain_for_containership</text></g>
<g id="n-on_a_sailboat" class="n" transform="translate(617.7,1127)"><rect width="132.7" height="38.4" rx="4"/><text x="66.35" y="24.9" textLength="111.7">on_a_sailboat</text><use href="#tg" x="-6" y="19.2"/></g>
<g id="n-on_a_rowing_boat" class="n" transform="translate(580.3,1185)"><rect width="170.1" height="38.4" rx="4"/><text x="85.05" y="24.9" textLength="149.1">on_a_rowing_boat</text><use href="#tg" x="-6" y="19.2"/></g>
<g id="n-boat_with_engine" class="n" transform="translate(586.3,1243)"><rect width="164.1" height="38.4" rx="4"/><text x="82.05" y="24.9" textLength="143.1">boat_with_engine</text><use href="#tg" x="-6" y="19.2"/></g>
<g id="n-surfer" class="lf" transform="translate(668.8,1301)"><rect width="68.3" height="38.4" rx="4"/><text x="34.15" y="24.9" textLength="47.3">surfer</text></g>
<g id="n-estimator" class="lf" transform="translate(445.2,1359)"><rect width="97.6" height="38.4" rx="4"/><text x="48.8" y="24.9" textLength="76.6">estimator</text></g>
<g id="n-construction_worker" class="lf" transform="translate(388.8,1417)"><rect width="185.1" height="38.4" rx="4"/><text x="92.55" y="24.9" textLength="164.1">construction_worker</text></g>
<g id="n-supervisor" class="lf" transform="translate(465,1475)"><rect width="104.5" height="38.4" rx="4"/><text x="52.25" y="24.9" textLength="83.5">supervisor</text></g>
<g id="n-architect" class="lf" transform="translate(498.3,1533)"><rect width="90.8" height="38.4" rx="4"/><text x="45.4" y="24.9" textLength="69.8">architect</text></g>
<g id="n-making_photos" class="n" transform="translate(580.4,1591)"><rect width="144.3" height="38.4" rx="4"/><text x="72.15" y="24.9" textLength="123.3">making_photos</text><use href="#tg" x="-6" y="19.2"/></g>
<g id="n-making_videos" class="n" transform="translate(583.2,1649)"><rect width="141.5" height="38.4" rx="4"/><text x="70.75" y="24.9" textLength="120.5">making_videos</text><use href="#tg" x="-6" y="19.2"/></g>
<g id="n-using_social_media" class="n" transform="translate(543.3,1707)"><rect width="177.7" height="38.4" rx="4"/><text x="88.85" y="24.9" textLength="156.7">using_social_media</text><use href="#tg" x="-6" y="19.2"/></g>
<g id="n-with_travelling" class="n" transform="translate(581.1,1765)"><rect width="139.9" height="38.4" rx="4"/><text x="69.95" y="24.9" textLength="118.9">with_travelling</text><use href="#tg" x="-6" y="19.2"/></g>
<g id="n-making_executives_decisions" class="n" transform="translate(293.8,431)"><rect width="258.2" height="38.4" rx="4"/><text x="129.1" y="24.9" textLength="237.2">making_executives_decisions</text><use href="#tg" x="-6" y="19.2"/></g>
<g id="n-maintaining_and_repairing" class="n" transform="translate(315.1,489)"><rect width="236.9" height="38.4" rx="4"/><text x="118.45" y="24.9" textLength="215.9">maintaining_and_repairing</text><use href="#tg" x="-6" y="19.2"/></g>
<g id="n-assisting_the_captain" class="n" transform="translate(357,547)"><rect width="195" height="38.4" rx="4"/><text x="97.5" y="24.9" textLength="174">assisting_the_captain</text><use href="#tg" x="-6" y="19.2"/></g>
<g id="n-assisting_the_staff_captain" class="n" transform="translate(311.5,605)"><rect width="240.5" height="38.4" rx="4"/><text x="120.25" y="24.9" textLength="219.5">assisting_the_staff_captain</text><use href="#tg" x="-6" y="19.2"/></g>
<g id="n-with_security" class="n" transform="translate(423.8,663)"><rect width="128.2" height="38.4" rx="4"/><text x="64.1" y="24.9" textLength="107.2">with_security</text><use href="#tg" x="-6" y="19.2"/></g>
<g id="n-repairing_pipes" class="n" transform="translate(379.8,721)"><rect width="144.8" height="38.4" rx="4"/><text x="72.4" y="24.9" textLength="123.8">repairing_pipes</text><use href="#tg" x="-6" y="19.2"/></g>
<g id="n-supervising_gauges" class="n" transform="translate(344.6,779)"><rect width="180" height="38.4" rx="4"/><text x="90" y="24.9" textLength="159">supervising_gauges</text><use href="#tg" x="-6" y="19.2"/></g>
<g id="n-maintaining_engines" class="n" transform="translate(337,837)"><rect width="187.6" height="38.4" rx="4"/><text x="93.8" y="24.9" textLength="166.6">maintaining_engines</text><use href="#tg" x="-6" y="19.2"/></g>
<g id="n-collect_stuff_to_wash" class="n" transform="translate(315.8,895)"><rect width="195.1" height="38.4" rx="4"/><text x="97.55" y="24.9" textLength="174.1">collect_stuff_to_wash</text><use href="#tg" x="-6" y="19.2"/></g>
<g id="n-cleaning_cabins" class="n" transform="translate(362.7,953)"><rect width="148.2" height="38.4" rx="4"/><text x="74.1" y="24.9" textLength="127.2">cleaning_cabins</text><use href="#tg" x="-6" y="19.2"/></g>
<g id="n-inspects_the_work_of_others" class="n" transform="translate(253.4,1011)"><rect width="257.5" height="38.4" rx="4"/><text x="128.75" y="24.9" textLength="236.5">inspects_the_work_of_others</text><use href="#tg" x="-6" y="19.2"/></g>
<g id="n-sailor" class="lf" transform="translate(511.4,1127)"><rect width="64.3" height="38.4" rx="4"/><text x="32.15" y="24.9" textLength="43.3">sailor</text></g>
<g id="n-rower" class="lf" transform="translate(471.3,1185)"><rect width="67" height="38.4" rx="4"/><text x="33.5" y="24.9" textLength="46">rower</text></g>
<g id="n-jet_boat_driver" class="lf" transform="translate(399.4,1243)"><rect width="144.9" height="38.4" rx="4"/><text x="72.45" y="24.9" textLength="123.9">jet_boat_driver</text></g>
<g id="n-photographer" class="lf" transform="translate(408.7,1591)"><rect width="129.7" height="38.4" rx="4"/><text x="64.85" y="24.9" textLength="108.7">photographer</text></g>
<g id="n-youtuber" class="lf" transform="translate(448.1,1649)"><rect width="93.1" height="38.4" rx="4"/><text x="46.55" y="24.9" textLength="72.1">youtuber</text></g>
<g id="n-influencer" class="lf" transform="translate(401.3,1707)"><rect width="100" height="38.4" rx="4"/><text x="50" y="24.9" textLength="79">influencer</text></g>
<g id="n-travel_guide" class="lf" transform="translate(418,1765)"><rect width="121.1" height="38.4" rx="4"/><text x="60.55" y="24.9" textLength="100.1">travel_guide</text></g>
<g id="n-captain" class="lf" transform="translate(172.4,431)"><rect width="79.4" height="38.4" rx="4"/><text x="39.7" y="24.9" textLength="58.4">captain</text></g>
<g id="n-carpenter" class="lf" transform="translate(175,489)"><rect width="98.1" height="38.4" rx="4"/><text x="49.05" y="24.9" textLength="77.1">carpenter</text></g>
<g id="n-staff_captain" class="lf" transform="translate(190.2,547)"><rect width="124.8" height="38.4" rx="4"/><text x="62.4" y="24.9" textLength="103.8">staff_captain</text></g>
<g id="n-chief_officer" class="lf" transform="translate(150.5,605)"><rect width="119" height="38.4" rx="4"/><text x="59.5" y="24.9" textLength="98">chief_officer</text></g>
<g id="n-security_officer" class="lf" transform="translate(237.4,663)"><rect width="144.4" height="38.4" rx="4"/><text x="72.2" y="24.9" textLength="123.4">security_officer</text></g>
<g id="n-plumber" class="lf" transform="translate(250.4,721)"><rect width="87.4" height="38.4" rx="4"/><text x="43.7" y="24.9" textLength="66.4">plumber</text></g>
<g id="n-oiler" class="lf" transform="translate(246.8,779)"><rect width="55.8" height="38.4" rx="4"/><text x="27.9" y="24.9" textLength="34.8">oiler</text></g>
<g id="n-motorman" class="lf" transform="translate(190.6,837)"><rect width="104.4" height="38.4" rx="4"/><text x="52.2" y="24.9" textLength="83.4">motorman</text></g>
<g id="n-laundry_staff" class="lf" transform="translate(146.8,895)"><rect width="127" height="38.4" rx="4"/><text x="63.5" y="24.9" textLength="106">laundry_staff</text></g>
<g id="n-cabin_steward" class="lf" transform="translate(183.6,953)"><rect width="137.1" height="38.4" rx="4"/><text x="68.55" y="24.9" textLength="116.1">cabin_steward</text></g>
<g id="n-chief_cabin_steward" class="lf" transform="translate(26.3,1011)"><rect width="185.1" height="38.4" rx="4"/><text x="92.55" y="24.9" textLength="164.1">chief_cabin_steward</text></g>
</svg>
